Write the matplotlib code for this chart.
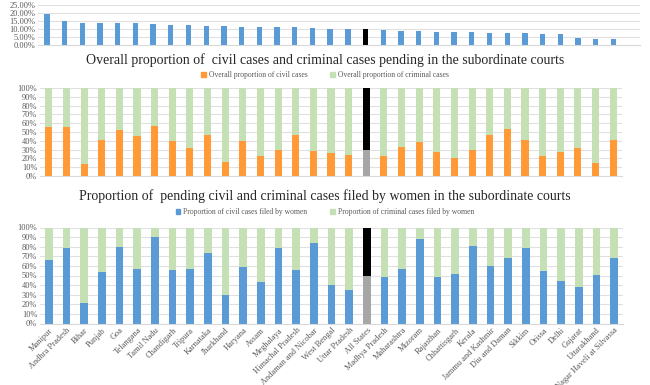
import numpy as np
import matplotlib
matplotlib.use('Agg')
import matplotlib.pyplot as plt
from matplotlib.ticker import FuncFormatter
from matplotlib.patches import Patch

plt.rcParams['font.family'] = ['Liberation Serif', 'DejaVu Serif']

estados = ['Manipur', 'Andhra Pradesh', 'Bihar', 'Punjab', 'Goa', 'Telangana',
           'Tamil Nadu', 'Chandigarh', 'Tripura', 'Karnataka', 'Jharkhand',
           'Haryana', 'Assam', 'Meghalaya', 'Himachal Pradesh',
           'Andaman and Nicobar', 'West Bengal', 'Uttar Pradesh', 'All States',
           'Madhya Pradesh', 'Maharashtra', 'Mizoram', 'Rajasthan',
           'Chhattisgarh', 'Kerala', 'Jammu and Kashmir', 'Diu and Daman',
           'Sikkim', 'Orissa', 'Delhi', 'Gujarat', 'Uttarakhand',
           'Dadra and Nagar Haveli at Silvassa']

# painel de cima (% mulheres, topo cortado)
topo = [19.2, 15.2, 13.8, 13.8, 13.5, 13.5, 13.1, 12.7, 12.3, 12.1, 11.7,
        11.5, 11.3, 11.0, 11.0, 10.6, 10.2, 9.8, 9.8, 9.4, 8.8, 8.8, 8.3,
        8.1, 7.9, 7.7, 7.3, 7.3, 6.9, 6.7, 4.4, 4.0, 3.5]

# proporcao civel x criminal
civil = [55.7, 56, 14, 41, 52, 45.5, 57, 40, 32, 47, 16, 39.4, 23, 29.5,
         46.6, 28.4, 25.8, 23.5, 29, 22.3, 33, 38.3, 27, 20.5, 30, 46.6,
         53.8, 41.3, 22.7, 27.3, 31.8, 14.4, 40.5]

# proporcao de casos de mulheres
civil_mulheres = [65.7, 78.9, 21.8, 54, 79.2, 56.7, 90, 55.4, 56.4, 73.4,
                  29.4, 58.8, 43.6, 78.5, 56, 83.4, 40.5, 35, 49.1, 48, 56.7,
                  88.2, 48.4, 52, 80.3, 59.9, 67.8, 78.2, 55, 44.6, 38, 50.5,
                  67.8]

azul = '#5B9BD5'
laranja = '#FF9A36'
verde = '#C5E0B4'
cinza_txt = '#595959'
idx_all = estados.index('All States')

x = np.arange(len(estados))
W, H = 650, 385
fig = plt.figure(figsize=(W / 100, H / 100), dpi=100)


def eixo(l, r, top, bottom):
    return fig.add_axes([l / W, 1 - bottom / H, (r - l) / W, (bottom - top) / H])


def estilo(ax):
    for s in ['top', 'right', 'left']:
        ax.spines[s].set_visible(False)
    ax.spines['bottom'].set_color('#d9d9d9')
    ax.grid(axis='y', color='#e0e0e0', linewidth=0.8)
    ax.set_axisbelow(True)
    ax.tick_params(axis='both', length=0, labelsize=6, colors=cinza_txt, pad=2)


# topo
ax1 = eixo(38, 640, 5, 45)
cores_topo = ['black' if i == idx_all else azul for i in x]
ax1.bar(x, topo, width=0.3, color=cores_topo)
ax1.set_ylim(0, 25)
ax1.set_yticks(np.arange(0, 26, 5))
ax1.yaxis.set_major_formatter(FuncFormatter(lambda v, p: f'{v:.2f}%'))
ax1.set_xlim(-0.5, 33.5)
ax1.set_xticks([])
estilo(ax1)

# meio
ax2 = eixo(40, 622, 88, 176)
criminal = [100 - c for c in civil]
cor_c = [('#A6A6A6' if i == idx_all else laranja) for i in x]
cor_cr = [('black' if i == idx_all else verde) for i in x]
ax2.bar(x, civil, width=0.4, color=cor_c)
ax2.bar(x, criminal, bottom=civil, width=0.4, color=cor_cr)
ax2.set_ylim(0, 100)
ax2.set_yticks(np.arange(0, 101, 10))
ax2.yaxis.set_major_formatter(FuncFormatter(lambda v, p: f'{v:.0f}%'))
ax2.set_xlim(-0.5, 32.5)
ax2.set_xticks([])
estilo(ax2)

fig.text(0.5, 1 - 60 / H, 'Overall proportion of  civil cases and criminal cases pending in the subordinate courts',
         ha='center', va='center', fontsize=10, color='#262626')
fig.legend(handles=[Patch(color=laranja, label='Overall proportion of civil cases'),
                    Patch(color=verde, label='Overall proportion of criminal cases')],
           loc='center', bbox_to_anchor=(0.5, 1 - 75 / H), ncol=2, frameon=False,
           fontsize=5.5, handlelength=0.6, handleheight=0.6, handletextpad=0.4,
           columnspacing=3, labelcolor=cinza_txt)

# baixo
ax3 = eixo(40, 623, 227.5, 323.5)
criminal_m = [100 - c for c in civil_mulheres]
cor_b = [('#A6A6A6' if i == idx_all else azul) for i in x]
ax3.bar(x, civil_mulheres, width=0.42, color=cor_b)
ax3.bar(x, criminal_m, bottom=civil_mulheres, width=0.42, color=cor_cr)
ax3.set_ylim(0, 100)
ax3.set_yticks(np.arange(0, 101, 10))
ax3.yaxis.set_major_formatter(FuncFormatter(lambda v, p: f'{v:.0f}%'))
ax3.set_xlim(-0.5, 32.5)
ax3.set_xticks(x)
ax3.set_xticklabels(estados, rotation=45, ha='right', rotation_mode='anchor')
estilo(ax3)

fig.text(0.5, 1 - 196 / H, 'Proportion of  pending civil and criminal cases filed by women in the subordinate courts',
         ha='center', va='center', fontsize=10, color='#262626')
fig.legend(handles=[Patch(color=azul, label='Proportion of civil cases filed by women'),
                    Patch(color=verde, label='Proportion of criminal cases filed by women')],
           loc='center', bbox_to_anchor=(0.5, 1 - 212 / H), ncol=2, frameon=False,
           fontsize=5.5, handlelength=0.6, handleheight=0.6, handletextpad=0.4,
           columnspacing=3, labelcolor=cinza_txt)

fig.savefig('out.png', dpi=100)
